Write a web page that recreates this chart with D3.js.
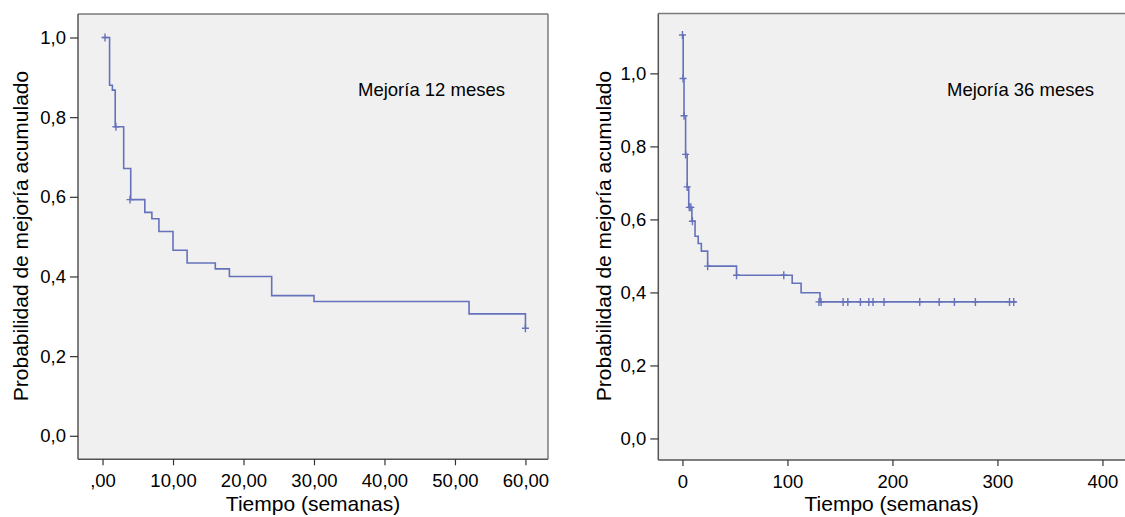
<!DOCTYPE html>
<html>
<head>
<meta charset="utf-8">
<script src="https://cdn.jsdelivr.net/npm/d3@7"></script>
<style>
  body { margin: 0; background: #fff; }
  svg { display: block; font-family: "Liberation Sans", Arial, sans-serif; }
</style>
</head>
<body>
<div id="chart"></div>
<script>
// curva 12 meses: [semana, probabilidad tras el paso]
const leftSteps = [[0, 1.0], [1, 0.880], [1.4, 0.868], [1.8, 0.776], [3, 0.671], [4, 0.593],
  [6, 0.561], [7, 0.545], [8, 0.513], [10, 0.466], [12, 0.434], [16, 0.419], [18, 0.400],
  [24, 0.352], [30, 0.337], [52, 0.306], [60, 0.27]];
const leftCensored = [[0.35, 1.0], [1.9, 0.776], [3.9, 0.593], [60, 0.27]];
const leftXTicks = [0, 10, 20, 30, 40, 50, 60];
const leftXLabels = [",00", "10,00", "20,00", "30,00", "40,00", "50,00", "60,00"];

// curva 36 meses
const rightSteps = [[0, 1.105], [0.7, 0.986], [1.5, 0.884], [3, 0.778], [4.5, 0.689], [6, 0.633],
  [9, 0.595], [12, 0.554], [15, 0.534], [18, 0.513], [24, 0.472], [51.5, 0.447], [104.5, 0.425],
  [113, 0.399], [131, 0.374], [318, 0.374]];
const rightCensored = [[0, 1.105], [0.6, 0.986], [1.5, 0.884], [3, 0.778], [4.5, 0.689],
  [6.5, 0.633], [8, 0.633], [9.5, 0.595], [24, 0.472], [51.5, 0.447], [96.5, 0.447],
  [130, 0.374], [132, 0.374], [153, 0.374], [157.5, 0.374], [169.5, 0.374], [177.5, 0.374],
  [181.5, 0.374], [192, 0.374], [226, 0.374], [244.5, 0.374], [259, 0.374], [279, 0.374],
  [311.5, 0.374], [315.5, 0.374]];
const rightXTicks = [0, 100, 200, 300, 400];
const rightXLabels = ["0", "100", "200", "300", "400"];

const yTicks = [0, 0.2, 0.4, 0.6, 0.8, 1.0];
const yLabels = ["0,0", "0,2", "0,4", "0,6", "0,8", "1,0"];

const xTitle = "Tiempo (semanas)";
const yTitle = "Probabilidad de mejoría acumulado";

const width = 1125, height = 517;
const lineColor = "#6572bb";

const svg = d3.select("#chart")
  .append("svg")
  .attr("width", width)
  .attr("height", height);

function panel(opts) {
  const x = d3.scaleLinear(opts.xDomain, [opts.left, opts.right]);
  const y = d3.scaleLinear(opts.yDomain, [opts.bottom, opts.top]);
  const g = svg.append("g");

  g.append("rect")
    .attr("x", opts.left).attr("y", opts.top)
    .attr("width", opts.right - opts.left).attr("height", opts.bottom - opts.top)
    .attr("fill", "#f0f0f0");

  // marco
  g.append("line").attr("x1", opts.left).attr("x2", opts.right).attr("y1", opts.top).attr("y2", opts.top)
    .attr("stroke", "#7a7a7a").attr("stroke-width", 1.5);
  g.append("line").attr("x1", opts.right).attr("x2", opts.right).attr("y1", opts.top).attr("y2", opts.bottom)
    .attr("stroke", "#7a7a7a").attr("stroke-width", 1.5);
  g.append("line").attr("x1", opts.left).attr("x2", opts.left).attr("y1", opts.top).attr("y2", opts.bottom)
    .attr("stroke", "#555").attr("stroke-width", 1.5);
  g.append("line").attr("x1", opts.left).attr("x2", opts.right).attr("y1", opts.bottom).attr("y2", opts.bottom)
    .attr("stroke", "#555").attr("stroke-width", 1.5);

  const yAxis = g.append("g")
    .attr("transform", `translate(${opts.left},0)`)
    .call(d3.axisLeft(y).tickValues(yTicks).tickFormat((d, i) => yLabels[i]).tickSize(8).tickPadding(4));
  yAxis.select(".domain").remove();

  const xAxis = g.append("g")
    .attr("transform", `translate(0,${opts.bottom})`)
    .call(d3.axisBottom(x).tickValues(opts.xTicks).tickFormat((d, i) => opts.xLabels[i]).tickSize(6).tickPadding(9));
  xAxis.select(".domain").remove();

  g.selectAll(".tick line").attr("stroke", "#333").attr("stroke-width", 1.2);
  g.selectAll(".tick text").attr("fill", "#000").style("font-size", "18.5px")
    .style("font-family", "'Liberation Sans', Arial, sans-serif");

  const line = d3.line()
    .x(d => x(d[0]))
    .y(d => y(d[1]))
    .curve(d3.curveStepAfter);

  g.append("path")
    .datum(opts.steps)
    .attr("fill", "none")
    .attr("stroke", lineColor)
    .attr("stroke-width", 1.6)
    .attr("d", line);

  g.selectAll(".cens")
    .data(opts.censored)
    .join("path")
    .attr("class", "cens")
    .attr("d", d => {
      const cx = x(d[0]), cy = y(d[1]);
      return `M${cx - 3.5},${cy}H${cx + 3.5}M${cx},${cy - 4}V${cy + 4}`;
    })
    .attr("stroke", lineColor)
    .attr("stroke-width", 1.4);

  g.append("text")
    .attr("x", opts.labelX).attr("y", 96)
    .style("font-size", "18.5px").attr("fill", "#000")
    .text(opts.label);

  g.append("text")
    .attr("x", (opts.left + Math.min(opts.right, width)) / 2 + opts.titleShift)
    .attr("y", 511)
    .attr("text-anchor", "middle")
    .style("font-size", "21px").attr("fill", "#000")
    .text(xTitle);

  g.append("text")
    .attr("transform", `translate(${opts.yTitleX},236) rotate(-90)`)
    .attr("text-anchor", "middle")
    .attr("dy", "0.35em")
    .style("font-size", "21px").attr("fill", "#000")
    .text(yTitle);
}

panel({
  left: 78, right: 548, top: 14, bottom: 459.3,
  xDomain: [-3.48, 63.2], yDomain: [-0.059, 1.059],
  xTicks: leftXTicks, xLabels: leftXLabels,
  steps: leftSteps, censored: leftCensored,
  label: "Mejoría 12 meses", labelX: 358,
  titleShift: 0, yTitleX: 21
});

panel({
  left: 658.3, right: 1126.6, top: 13.5, bottom: 460,
  xDomain: [-23, 423], yDomain: [-0.059, 1.164],
  xTicks: rightXTicks, xLabels: rightXLabels,
  steps: rightSteps, censored: rightCensored,
  label: "Mejoría 36 meses", labelX: 947,
  titleShift: 0, yTitleX: 604
});
</script>
</body>
</html>
